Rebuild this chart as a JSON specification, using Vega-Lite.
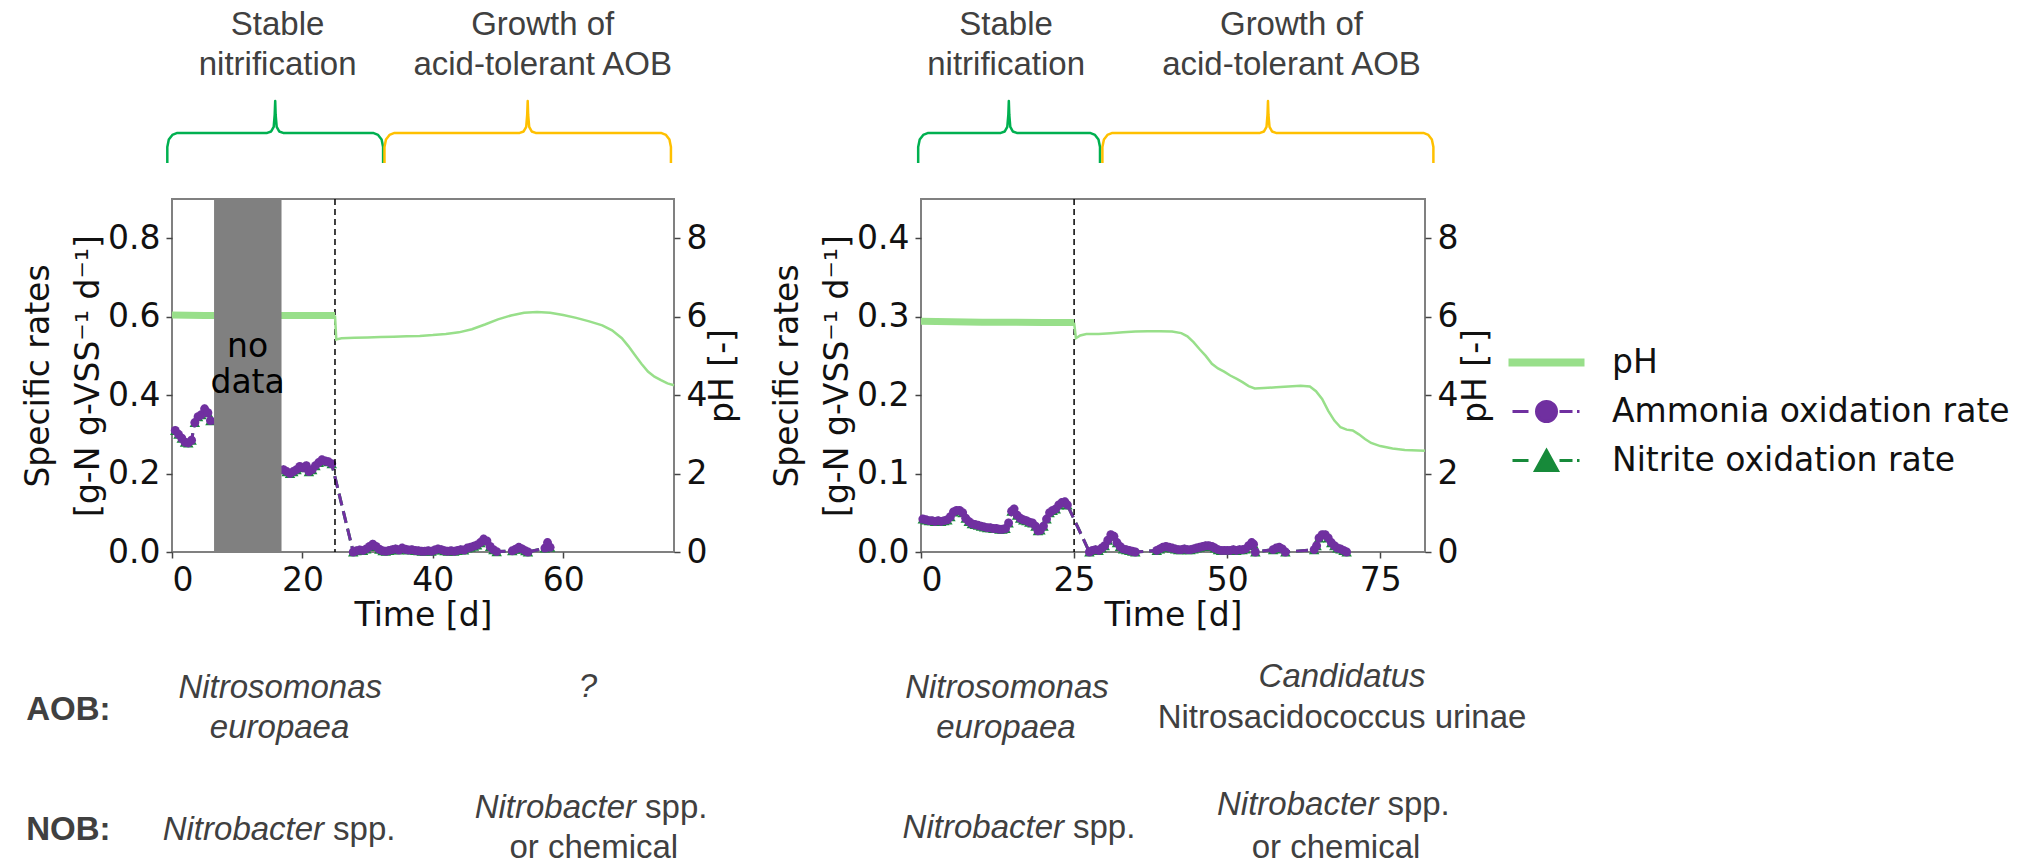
{
"$schema":"https://vega.github.io/schema/vega-lite/v6.json",
"background":"white",
"padding":{"left":21,"top":8,"right":5,"bottom":0},
"spacing":29,
"resolve":{"legend":{"color":"independent"}},
"config":{
  "font":"DejaVu Sans",
  "view":{"stroke":"#808080","strokeWidth":2},
  "axis":{"labelFont":"DejaVu Sans","labelFontSize":33,"labelColor":"#111","titleFont":"DejaVu Sans","titleFontSize":33,"titleColor":"#111","titleFontWeight":"normal","grid":false,"domain":false,"tickColor":"#444","tickWidth":1.5,"tickSize":6,"labelPadding":6},
  "axisX":{"titlePadding":2},
  "legend":{"labelFont":"DejaVu Sans","labelFontSize":33,"labelColor":"#111","labelLimit":600}
},
"datasets":{
"rateL":[
{"t":0.5,"amm":0.31,"nit":0.31},{"t":1.0,"amm":0.30,"nit":0.30},{"t":1.5,"amm":0.29,"nit":0.29},{"t":2.0,"amm":0.28,"nit":0.28},{"t":2.5,"amm":0.278,"nit":0.278},{"t":3.0,"amm":0.285,"nit":0.285},{"t":3.5,"amm":0.33,"nit":0.33},{"t":4.0,"amm":0.345,"nit":0.345},{"t":4.5,"amm":0.35,"nit":0.35},{"t":5.0,"amm":0.365,"nit":0.365},{"t":5.5,"amm":0.355,"nit":0.355},{"t":5.9,"amm":0.335,"nit":0.335},
{"t":17.1,"amm":0.21,"nit":0.21},{"t":17.6,"amm":0.205,"nit":0.205},{"t":18.1,"amm":0.2,"nit":0.2},{"t":18.6,"amm":0.205,"nit":0.205},{"t":19.1,"amm":0.21,"nit":0.21},{"t":19.6,"amm":0.218,"nit":0.218},{"t":20.1,"amm":0.215,"nit":0.215},{"t":20.6,"amm":0.22,"nit":0.22},{"t":21.0,"amm":0.205,"nit":0.205},{"t":21.5,"amm":0.21,"nit":0.21},{"t":22.0,"amm":0.22,"nit":0.22},{"t":22.5,"amm":0.228,"nit":0.228},{"t":23.0,"amm":0.235,"nit":0.235},{"t":23.5,"amm":0.232,"nit":0.232},{"t":24.0,"amm":0.23,"nit":0.23},{"t":24.5,"amm":0.225,"nit":0.225},
{"t":27.8,"amm":0.0,"nit":0.0},{"t":28.3,"amm":0.003,"nit":0.003},{"t":28.8,"amm":0.005,"nit":0.005},{"t":29.3,"amm":0.004,"nit":0.004},{"t":29.8,"amm":0.008,"nit":0.008},{"t":30.3,"amm":0.014,"nit":0.014},{"t":30.8,"amm":0.02,"nit":0.02},{"t":31.3,"amm":0.014,"nit":0.014},{"t":31.8,"amm":0.007,"nit":0.007},{"t":32.3,"amm":0.003,"nit":0.003},{"t":32.8,"amm":0.002,"nit":0.002},{"t":33.3,"amm":0.004,"nit":0.004},{"t":33.8,"amm":0.006,"nit":0.006},{"t":34.3,"amm":0.008,"nit":0.008},{"t":34.8,"amm":0.005,"nit":0.005},{"t":35.3,"amm":0.01,"nit":0.01},{"t":35.8,"amm":0.007,"nit":0.007},{"t":36.3,"amm":0.005,"nit":0.005},{"t":36.8,"amm":0.006,"nit":0.006},{"t":37.3,"amm":0.004,"nit":0.004},{"t":37.8,"amm":0.003,"nit":0.003},{"t":38.3,"amm":0.002,"nit":0.002},{"t":38.8,"amm":0.002,"nit":0.002},{"t":39.3,"amm":0.003,"nit":0.003},{"t":39.8,"amm":0.002,"nit":0.002},{"t":40.3,"amm":0.005,"nit":0.005},{"t":40.8,"amm":0.008,"nit":0.008},{"t":41.3,"amm":0.006,"nit":0.006},{"t":41.8,"amm":0.003,"nit":0.003},{"t":42.3,"amm":0.002,"nit":0.002},{"t":42.8,"amm":0.003,"nit":0.003},{"t":43.3,"amm":0.002,"nit":0.002},{"t":43.8,"amm":0.004,"nit":0.004},{"t":44.3,"amm":0.006,"nit":0.006},{"t":44.8,"amm":0.005,"nit":0.005},{"t":45.3,"amm":0.01,"nit":0.01},{"t":45.8,"amm":0.012,"nit":0.012},{"t":46.3,"amm":0.015,"nit":0.015},{"t":46.8,"amm":0.018,"nit":0.018},{"t":47.3,"amm":0.024,"nit":0.024},{"t":47.8,"amm":0.033,"nit":0.033},{"t":48.3,"amm":0.028,"nit":0.028},{"t":48.8,"amm":0.014,"nit":0.014},{"t":49.3,"amm":0.006,"nit":0.006},{"t":49.8,"amm":0.001,"nit":0.001},
{"t":52.2,"amm":0.003,"nit":0.003},{"t":52.7,"amm":0.007,"nit":0.007},{"t":53.2,"amm":0.012,"nit":0.012},{"t":53.7,"amm":0.008,"nit":0.008},{"t":54.2,"amm":0.003,"nit":0.003},{"t":54.6,"amm":0.0,"nit":0.0},
{"t":57.2,"amm":0.01,"nit":0.01},{"t":57.6,"amm":0.024,"nit":0.024},{"t":58.0,"amm":0.012,"nit":0.012}
],
"rateR":[
{"t":0.3,"amm":0.042,"nit":0.042},{"t":0.8,"amm":0.041,"nit":0.041},{"t":1.3,"amm":0.04,"nit":0.04},{"t":1.8,"amm":0.04,"nit":0.04},{"t":2.3,"amm":0.039,"nit":0.039},{"t":2.8,"amm":0.04,"nit":0.04},{"t":3.3,"amm":0.039,"nit":0.039},{"t":3.8,"amm":0.04,"nit":0.04},{"t":4.3,"amm":0.041,"nit":0.041},{"t":4.8,"amm":0.045,"nit":0.045},{"t":5.3,"amm":0.051,"nit":0.051},{"t":5.8,"amm":0.053,"nit":0.053},{"t":6.3,"amm":0.053,"nit":0.053},{"t":6.8,"amm":0.05,"nit":0.05},{"t":7.3,"amm":0.043,"nit":0.043},{"t":7.8,"amm":0.039,"nit":0.039},{"t":8.3,"amm":0.036,"nit":0.036},{"t":8.8,"amm":0.035,"nit":0.035},{"t":9.3,"amm":0.034,"nit":0.034},{"t":9.8,"amm":0.033,"nit":0.033},{"t":10.3,"amm":0.032,"nit":0.032},{"t":10.8,"amm":0.031,"nit":0.031},{"t":11.3,"amm":0.031,"nit":0.031},{"t":11.8,"amm":0.03,"nit":0.03},{"t":12.3,"amm":0.03,"nit":0.03},{"t":12.8,"amm":0.029,"nit":0.029},{"t":13.3,"amm":0.029,"nit":0.029},{"t":13.8,"amm":0.03,"nit":0.03},{"t":14.3,"amm":0.037,"nit":0.037},{"t":14.8,"amm":0.052,"nit":0.052},{"t":15.2,"amm":0.055,"nit":0.055},{"t":15.7,"amm":0.047,"nit":0.047},{"t":16.2,"amm":0.043,"nit":0.043},{"t":16.7,"amm":0.041,"nit":0.041},{"t":17.2,"amm":0.04,"nit":0.04},{"t":17.7,"amm":0.038,"nit":0.038},{"t":18.2,"amm":0.037,"nit":0.037},{"t":18.7,"amm":0.033,"nit":0.033},{"t":19.1,"amm":0.027,"nit":0.027},{"t":19.5,"amm":0.028,"nit":0.028},{"t":20.0,"amm":0.033,"nit":0.033},{"t":20.5,"amm":0.042,"nit":0.042},{"t":21.0,"amm":0.05,"nit":0.05},{"t":21.5,"amm":0.053,"nit":0.053},{"t":22.0,"amm":0.055,"nit":0.055},{"t":22.5,"amm":0.06,"nit":0.06},{"t":23.0,"amm":0.063,"nit":0.063},{"t":23.5,"amm":0.064,"nit":0.064},{"t":23.9,"amm":0.06,"nit":0.06},
{"t":27.5,"amm":0.0,"nit":0.0},{"t":28.0,"amm":0.002,"nit":0.002},{"t":28.5,"amm":0.003,"nit":0.003},{"t":29.0,"amm":0.002,"nit":0.002},{"t":29.5,"amm":0.005,"nit":0.005},{"t":30.0,"amm":0.008,"nit":0.008},{"t":30.5,"amm":0.015,"nit":0.015},{"t":31.0,"amm":0.022,"nit":0.022},{"t":31.5,"amm":0.02,"nit":0.02},{"t":32.0,"amm":0.012,"nit":0.012},{"t":32.5,"amm":0.007,"nit":0.007},{"t":33.0,"amm":0.004,"nit":0.004},{"t":33.5,"amm":0.003,"nit":0.003},{"t":34.0,"amm":0.002,"nit":0.002},{"t":34.5,"amm":0.001,"nit":0.001},{"t":35.0,"amm":0.0,"nit":0.0},
{"t":38.5,"amm":0.002,"nit":0.002},{"t":39.0,"amm":0.004,"nit":0.004},{"t":39.5,"amm":0.006,"nit":0.006},{"t":40.0,"amm":0.007,"nit":0.007},{"t":40.5,"amm":0.006,"nit":0.006},{"t":41.0,"amm":0.005,"nit":0.005},{"t":41.5,"amm":0.004,"nit":0.004},{"t":42.0,"amm":0.003,"nit":0.003},{"t":42.5,"amm":0.003,"nit":0.003},{"t":43.0,"amm":0.004,"nit":0.004},{"t":43.5,"amm":0.003,"nit":0.003},{"t":44.0,"amm":0.003,"nit":0.003},{"t":44.5,"amm":0.004,"nit":0.004},{"t":45.0,"amm":0.005,"nit":0.005},{"t":45.5,"amm":0.006,"nit":0.006},{"t":46.0,"amm":0.007,"nit":0.007},{"t":46.5,"amm":0.008,"nit":0.008},{"t":47.0,"amm":0.008,"nit":0.008},{"t":47.5,"amm":0.007,"nit":0.007},{"t":48.0,"amm":0.005,"nit":0.005},{"t":48.5,"amm":0.003,"nit":0.003},{"t":49.0,"amm":0.002,"nit":0.002},{"t":49.5,"amm":0.002,"nit":0.002},{"t":50.0,"amm":0.002,"nit":0.002},{"t":50.5,"amm":0.002,"nit":0.002},{"t":51.0,"amm":0.003,"nit":0.003},{"t":51.5,"amm":0.002,"nit":0.002},{"t":52.0,"amm":0.003,"nit":0.003},{"t":52.5,"amm":0.003,"nit":0.003},{"t":53.0,"amm":0.004,"nit":0.004},{"t":53.5,"amm":0.008,"nit":0.008},{"t":54.0,"amm":0.012,"nit":0.012},{"t":54.3,"amm":0.01,"nit":0.01},{"t":54.6,"amm":0.0,"nit":0.0},
{"t":57.5,"amm":0.003,"nit":0.003},{"t":58.0,"amm":0.005,"nit":0.005},{"t":58.5,"amm":0.006,"nit":0.006},{"t":59.0,"amm":0.004,"nit":0.004},{"t":59.5,"amm":0.0,"nit":0.0},
{"t":64.2,"amm":0.003,"nit":0.003},{"t":64.6,"amm":0.008,"nit":0.008},{"t":65.0,"amm":0.018,"nit":0.018},{"t":65.5,"amm":0.022,"nit":0.022},{"t":66.0,"amm":0.022,"nit":0.022},{"t":66.5,"amm":0.018,"nit":0.018},{"t":67.0,"amm":0.012,"nit":0.012},{"t":67.5,"amm":0.008,"nit":0.008},{"t":68.0,"amm":0.005,"nit":0.005},{"t":68.5,"amm":0.004,"nit":0.004},{"t":69.0,"amm":0.002,"nit":0.002},{"t":69.5,"amm":0.0,"nit":0.0}
],
"phL":[
{"t":0,"ph":6.04},{"t":5,"ph":6.03},{"t":10,"ph":6.03},{"t":15,"ph":6.03},{"t":20,"ph":6.03},{"t":25,"ph":6.03},
{"t":25.2,"ph":5.42},{"t":26,"ph":5.45},{"t":28,"ph":5.46},{"t":30,"ph":5.47},{"t":32,"ph":5.48},{"t":34,"ph":5.49},{"t":36,"ph":5.5},{"t":38,"ph":5.51},{"t":40,"ph":5.53},{"t":42,"ph":5.56},{"t":44,"ph":5.6},{"t":46,"ph":5.68},{"t":48,"ph":5.8},{"t":50,"ph":5.93},{"t":52,"ph":6.03},{"t":54,"ph":6.1},{"t":56,"ph":6.12},{"t":58,"ph":6.1},{"t":60,"ph":6.04},{"t":62,"ph":5.97},{"t":64,"ph":5.88},{"t":66,"ph":5.78},{"t":67.5,"ph":5.65},{"t":69,"ph":5.45},{"t":70,"ph":5.25},{"t":71,"ph":5.02},{"t":72,"ph":4.8},{"t":73,"ph":4.6},{"t":74,"ph":4.47},{"t":75,"ph":4.38},{"t":76,"ph":4.3},{"t":77,"ph":4.25}
],
"phR":[
{"t":0,"ph":5.88},{"t":5,"ph":5.87},{"t":10,"ph":5.86},{"t":15,"ph":5.86},{"t":20,"ph":5.85},{"t":25,"ph":5.85},
{"t":25.3,"ph":5.45},{"t":26,"ph":5.52},{"t":27,"ph":5.56},{"t":29,"ph":5.56},{"t":31,"ph":5.58},{"t":33,"ph":5.6},{"t":35,"ph":5.62},{"t":37,"ph":5.63},{"t":39,"ph":5.63},{"t":41,"ph":5.62},{"t":42.5,"ph":5.58},{"t":43.5,"ph":5.5},{"t":44.5,"ph":5.35},{"t":45.5,"ph":5.17},{"t":46.5,"ph":5.0},{"t":47.5,"ph":4.8},{"t":48.5,"ph":4.68},{"t":49.5,"ph":4.6},{"t":50.5,"ph":4.5},{"t":51.5,"ph":4.42},{"t":52.5,"ph":4.33},{"t":53.5,"ph":4.23},{"t":54.5,"ph":4.17},{"t":56,"ph":4.18},{"t":58,"ph":4.2},{"t":60,"ph":4.22},{"t":62,"ph":4.24},{"t":63.5,"ph":4.22},{"t":64.5,"ph":4.1},{"t":65.5,"ph":3.9},{"t":66.5,"ph":3.6},{"t":67.5,"ph":3.35},{"t":68.5,"ph":3.18},{"t":69.5,"ph":3.12},{"t":70.5,"ph":3.1},{"t":71.5,"ph":3.0},{"t":72.5,"ph":2.88},{"t":73.5,"ph":2.78},{"t":75,"ph":2.7},{"t":77,"ph":2.64},{"t":79,"ph":2.6},{"t":82.3,"ph":2.58}
],
"braceL":[
{"phase":"stable","i":0,"t":-0.72,"ph":9.918},{"phase":"stable","i":1,"t":-0.72,"ph":10.327},{"phase":"stable","i":2,"t":-0.49,"ph":10.518},{"phase":"stable","i":3,"t":0.05,"ph":10.633},{"phase":"stable","i":4,"t":0.81,"ph":10.684},{"phase":"stable","i":5,"t":14.6,"ph":10.684},{"phase":"stable","i":6,"t":15.21,"ph":10.722},{"phase":"stable","i":7,"t":15.6,"ph":10.837},{"phase":"stable","i":8,"t":15.75,"ph":11.143},{"phase":"stable","i":9,"t":15.83,"ph":11.5},{"phase":"stable","i":10,"t":15.9,"ph":11.143},{"phase":"stable","i":11,"t":16.06,"ph":10.837},{"phase":"stable","i":12,"t":16.44,"ph":10.722},{"phase":"stable","i":13,"t":17.06,"ph":10.684},{"phase":"stable","i":14,"t":30.84,"ph":10.684},{"phase":"stable","i":15,"t":31.61,"ph":10.633},{"phase":"stable","i":16,"t":32.15,"ph":10.518},{"phase":"stable","i":17,"t":32.38,"ph":10.327},{"phase":"stable","i":18,"t":32.38,"ph":9.918},
{"phase":"growth","i":0,"t":32.59,"ph":9.918},{"phase":"growth","i":1,"t":32.59,"ph":10.327},{"phase":"growth","i":2,"t":32.82,"ph":10.518},{"phase":"growth","i":3,"t":33.36,"ph":10.633},{"phase":"growth","i":4,"t":34.13,"ph":10.684},{"phase":"growth","i":5,"t":53.33,"ph":10.684},{"phase":"growth","i":6,"t":53.94,"ph":10.722},{"phase":"growth","i":7,"t":54.33,"ph":10.837},{"phase":"growth","i":8,"t":54.48,"ph":11.143},{"phase":"growth","i":9,"t":54.56,"ph":11.5},{"phase":"growth","i":10,"t":54.63,"ph":11.143},{"phase":"growth","i":11,"t":54.79,"ph":10.837},{"phase":"growth","i":12,"t":55.17,"ph":10.722},{"phase":"growth","i":13,"t":55.78,"ph":10.684},{"phase":"growth","i":14,"t":75.0,"ph":10.684},{"phase":"growth","i":15,"t":75.77,"ph":10.633},{"phase":"growth","i":16,"t":76.3,"ph":10.518},{"phase":"growth","i":17,"t":76.53,"ph":10.327},{"phase":"growth","i":18,"t":76.53,"ph":9.918}
],
"braceR":[
{"phase":"stable","i":0,"t":-0.46,"ph":9.918},{"phase":"stable","i":1,"t":-0.46,"ph":10.327},{"phase":"stable","i":2,"t":-0.21,"ph":10.518},{"phase":"stable","i":3,"t":0.36,"ph":10.633},{"phase":"stable","i":4,"t":1.18,"ph":10.684},{"phase":"stable","i":5,"t":13.03,"ph":10.684},{"phase":"stable","i":6,"t":13.68,"ph":10.722},{"phase":"stable","i":7,"t":14.09,"ph":10.837},{"phase":"stable","i":8,"t":14.26,"ph":11.143},{"phase":"stable","i":9,"t":14.34,"ph":11.5},{"phase":"stable","i":10,"t":14.42,"ph":11.143},{"phase":"stable","i":11,"t":14.58,"ph":10.837},{"phase":"stable","i":12,"t":14.99,"ph":10.722},{"phase":"stable","i":13,"t":15.64,"ph":10.684},{"phase":"stable","i":14,"t":27.6,"ph":10.684},{"phase":"stable","i":15,"t":28.41,"ph":10.633},{"phase":"stable","i":16,"t":28.98,"ph":10.518},{"phase":"stable","i":17,"t":29.23,"ph":10.327},{"phase":"stable","i":18,"t":29.23,"ph":9.918},
{"phase":"growth","i":0,"t":29.62,"ph":9.918},{"phase":"growth","i":1,"t":29.62,"ph":10.327},{"phase":"growth","i":2,"t":29.87,"ph":10.518},{"phase":"growth","i":3,"t":30.44,"ph":10.633},{"phase":"growth","i":4,"t":31.25,"ph":10.684},{"phase":"growth","i":5,"t":55.36,"ph":10.684},{"phase":"growth","i":6,"t":56.01,"ph":10.722},{"phase":"growth","i":7,"t":56.42,"ph":10.837},{"phase":"growth","i":8,"t":56.58,"ph":11.143},{"phase":"growth","i":9,"t":56.66,"ph":11.5},{"phase":"growth","i":10,"t":56.74,"ph":11.143},{"phase":"growth","i":11,"t":56.91,"ph":10.837},{"phase":"growth","i":12,"t":57.32,"ph":10.722},{"phase":"growth","i":13,"t":57.97,"ph":10.684},{"phase":"growth","i":14,"t":82.04,"ph":10.684},{"phase":"growth","i":15,"t":82.85,"ph":10.633},{"phase":"growth","i":16,"t":83.42,"ph":10.518},{"phase":"growth","i":17,"t":83.67,"ph":10.327},{"phase":"growth","i":18,"t":83.67,"ph":9.918}
],
"annL":[
{"t":16.2,"ph":13.18,"label":"Stable","role":"head"},
{"t":16.2,"ph":12.17,"label":"nitrification","role":"head"},
{"t":56.86,"ph":13.18,"label":"Growth of","role":"head"},
{"t":56.86,"ph":12.17,"label":"acid-tolerant AOB","role":"head"},
{"t":11.6,"ph":4.97,"label":"no","role":"nodata"},
{"t":11.6,"ph":4.05,"label":"data","role":"nodata"},
{"t":-15.9,"ph":-4.29,"label":"AOB:","role":"bold"},
{"t":-15.9,"ph":-7.35,"label":"NOB:","role":"bold"},
{"t":16.6,"ph":-3.73,"label":"Nitrosomonas","role":"it"},
{"t":16.5,"ph":-4.75,"label":"europaea","role":"it"},
{"t":63.8,"ph":-3.7,"label":"?","role":"it"},
{"t":23.33,"ph":-7.35,"label":"Nitrobacter","role":"genus"},
{"t":23.33,"ph":-7.35,"label":"spp.","role":"spp"},
{"t":71.18,"ph":-6.78,"label":"Nitrobacter","role":"genus"},
{"t":71.18,"ph":-6.78,"label":"spp.","role":"spp"},
{"t":64.7,"ph":-7.79,"label":"or chemical","role":"plain"}
],
"annR":[
{"t":13.9,"ph":13.18,"label":"Stable","role":"head"},
{"t":13.9,"ph":12.17,"label":"nitrification","role":"head"},
{"t":60.5,"ph":13.18,"label":"Growth of","role":"head"},
{"t":60.5,"ph":12.17,"label":"acid-tolerant AOB","role":"head"},
{"t":14.04,"ph":-3.73,"label":"Nitrosomonas","role":"it"},
{"t":13.88,"ph":-4.75,"label":"europaea","role":"it"},
{"t":23.35,"ph":-7.28,"label":"Nitrobacter","role":"genus"},
{"t":23.35,"ph":-7.28,"label":"spp.","role":"spp"},
{"t":68.75,"ph":-3.45,"label":"Candidatus","role":"it"},
{"t":68.75,"ph":-4.49,"label":"Nitrosacidococcus urinae","role":"plain"},
{"t":74.69,"ph":-6.71,"label":"Nitrobacter","role":"genus"},
{"t":74.69,"ph":-6.71,"label":"spp.","role":"spp"},
{"t":67.77,"ph":-7.79,"label":"or chemical","role":"plain"}
]
},
"hconcat":[
{
 "width":502,"height":353,
 "resolve":{"scale":{"y":"independent"}},
 "layer":[
    {"data":{"name":"rateL"},"mark":{"type":"line","strokeWidth":3,"strokeDash":[12,6],"color":"#178a3a"},
     "encoding":{"x":{"field":"t","type":"quantitative","scale":{"domain":[0,77],"nice":false,"zero":false},"axis":{"title":"Time [d]","values":[0,20,40,60]}},
      "y":{"field":"nit","type":"quantitative","scale":{"domain":[0,0.9],"nice":false},"axis":{"orient":"left","title":["Specific rates","[g-N g-VSS⁻¹ d⁻¹]"],"titleLineHeight":50,"titlePadding":2,"values":[0,0.2,0.4,0.6,0.8],"format":".1f","encode":{"title":{"update":{"lineHeight":{"value":50}}}}}}}},
    {"data":{"name":"rateL"},"mark":{"type":"point","shape":"triangle-up","filled":true,"size":110,"opacity":1,"color":"#178a3a"},
     "encoding":{"x":{"field":"t","type":"quantitative"},
      "y":{"field":"nit","type":"quantitative","scale":{"domain":[0,0.9],"nice":false},"axis":null}}},
    {"data":{"name":"rateL"},"mark":{"type":"line","strokeWidth":3,"strokeDash":[12,6],"color":"#7030a0"},
     "encoding":{"x":{"field":"t","type":"quantitative"},
      "y":{"field":"amm","type":"quantitative","scale":{"domain":[0,0.9],"nice":false},"axis":null}}},
    {"data":{"name":"rateL"},"mark":{"type":"point","shape":"circle","filled":true,"size":80,"opacity":1,"color":"#7030a0"},
     "encoding":{"x":{"field":"t","type":"quantitative"},
      "y":{"field":"amm","type":"quantitative","scale":{"domain":[0,0.9],"nice":false},"axis":null}}},
    {"data":{"values":[{}]},"mark":{"type":"rule","color":"#000","strokeWidth":1.5,"strokeDash":[6,4]},
     "encoding":{"x":{"datum":25,"type":"quantitative"}}},
    {"data":{"name":"phL"},"transform":[{"filter":"datum.t <= 25"}],"mark":{"type":"line","strokeWidth":7,"color":"#98df8a"},
     "encoding":{"x":{"field":"t","type":"quantitative"},
      "y":{"field":"ph","type":"quantitative","scale":{"domain":[0,9],"nice":false,"zero":false},"axis":{"orient":"right","title":"pH [-]","values":[0,2,4,6,8],"titleAngle":-90,"titleBaseline":"top","titlePadding":0}}}},
    {"data":{"name":"phL"},"transform":[{"filter":"datum.t >= 25"}],"mark":{"type":"line","strokeWidth":2.5,"color":"#98df8a"},
     "encoding":{"x":{"field":"t","type":"quantitative"},
      "y":{"field":"ph","type":"quantitative","scale":{"domain":[0,9],"nice":false,"zero":false},"axis":null}}},
    {"data":{"values":[{"start":6.45,"end":16.8}]},"mark":{"type":"rect","color":"#808080"},
     "encoding":{"x":{"field":"start","type":"quantitative"},"x2":{"field":"end"}}},
    {"data":{"name":"annL"},"transform":[{"filter":"datum.role === 'nodata'"}],"mark":{"type":"text","font":"DejaVu Sans","fontSize":33,"color":"#000","align":"center","baseline":"alphabetic"},
     "encoding":{"x":{"field":"t","type":"quantitative"},"y":{"field":"ph","type":"quantitative","scale":{"domain":[0,9],"nice":false,"zero":false},"axis":null},"text":{"field":"label"}}},
    {"data":{"name":"braceL"},"transform":[{"filter":"datum.phase === 'stable'"}],"mark":{"type":"line","color":"#00b050","strokeWidth":2.5,"strokeJoin":"round"},
     "encoding":{"x":{"field":"t","type":"quantitative"},"y":{"field":"ph","type":"quantitative","scale":{"domain":[0,9],"nice":false,"zero":false},"axis":null},"order":{"field":"i","type":"quantitative"}}},
    {"data":{"name":"braceL"},"transform":[{"filter":"datum.phase === 'growth'"}],"mark":{"type":"line","color":"#ffc000","strokeWidth":2.5,"strokeJoin":"round"},
     "encoding":{"x":{"field":"t","type":"quantitative"},"y":{"field":"ph","type":"quantitative","scale":{"domain":[0,9],"nice":false,"zero":false},"axis":null},"order":{"field":"i","type":"quantitative"}}},
    {"data":{"name":"annL"},"transform":[{"filter":"datum.role === 'head'"}],"mark":{"type":"text","font":"Liberation Sans","fontSize":33,"color":"#404040","align":"center","baseline":"alphabetic"},
     "encoding":{"x":{"field":"t","type":"quantitative"},"y":{"field":"ph","type":"quantitative","scale":{"domain":[0,9],"nice":false,"zero":false},"axis":null},"text":{"field":"label"}}},
    {"data":{"name":"annL"},"transform":[{"filter":"datum.role === 'it'"}],"mark":{"type":"text","font":"Liberation Sans","fontSize":33,"fontStyle":"italic","color":"#404040","align":"center","baseline":"alphabetic"},
     "encoding":{"x":{"field":"t","type":"quantitative"},"y":{"field":"ph","type":"quantitative","scale":{"domain":[0,9],"nice":false,"zero":false},"axis":null},"text":{"field":"label"}}},
    {"data":{"name":"annL"},"transform":[{"filter":"datum.role === 'plain'"}],"mark":{"type":"text","font":"Liberation Sans","fontSize":33,"color":"#404040","align":"center","baseline":"alphabetic"},
     "encoding":{"x":{"field":"t","type":"quantitative"},"y":{"field":"ph","type":"quantitative","scale":{"domain":[0,9],"nice":false,"zero":false},"axis":null},"text":{"field":"label"}}},
    {"data":{"name":"annL"},"transform":[{"filter":"datum.role === 'bold'"}],"mark":{"type":"text","font":"Liberation Sans","fontSize":33,"fontWeight":"bold","color":"#404040","align":"center","baseline":"alphabetic"},
     "encoding":{"x":{"field":"t","type":"quantitative"},"y":{"field":"ph","type":"quantitative","scale":{"domain":[0,9],"nice":false,"zero":false},"axis":null},"text":{"field":"label"}}},
    {"data":{"name":"annL"},"transform":[{"filter":"datum.role === 'genus'"}],"mark":{"type":"text","font":"Liberation Sans","fontSize":33,"fontStyle":"italic","color":"#404040","align":"right","baseline":"alphabetic"},
     "encoding":{"x":{"field":"t","type":"quantitative"},"y":{"field":"ph","type":"quantitative","scale":{"domain":[0,9],"nice":false,"zero":false},"axis":null},"text":{"field":"label"}}},
    {"data":{"name":"annL"},"transform":[{"filter":"datum.role === 'spp'"}],"mark":{"type":"text","font":"Liberation Sans","fontSize":33,"color":"#404040","align":"left","baseline":"alphabetic","dx":9},
     "encoding":{"x":{"field":"t","type":"quantitative"},"y":{"field":"ph","type":"quantitative","scale":{"domain":[0,9],"nice":false,"zero":false},"axis":null},"text":{"field":"label"}}}
 ]
},
{
 "width":504,"height":353,
 "resolve":{"scale":{"y":"independent"}},
 "layer":[
    {"data":{"name":"rateR"},"mark":{"type":"line","strokeWidth":3,"strokeDash":[12,6],"color":"#178a3a"},
     "encoding":{"x":{"field":"t","type":"quantitative","scale":{"domain":[0,82.3],"nice":false,"zero":false},"axis":{"title":"Time [d]","values":[0,25,50,75]}},
      "y":{"field":"nit","type":"quantitative","scale":{"domain":[0,0.45],"nice":false},"axis":{"orient":"left","title":["Specific rates","[g-N g-VSS⁻¹ d⁻¹]"],"titleLineHeight":50,"titlePadding":2,"values":[0,0.1,0.2,0.3,0.4],"format":".1f","encode":{"title":{"update":{"lineHeight":{"value":50}}}}}}}},
    {"data":{"name":"rateR"},"mark":{"type":"point","shape":"triangle-up","filled":true,"size":110,"opacity":1,"color":"#178a3a"},
     "encoding":{"x":{"field":"t","type":"quantitative"},
      "y":{"field":"nit","type":"quantitative","scale":{"domain":[0,0.45],"nice":false},"axis":null}}},
    {"data":{"name":"rateR"},"mark":{"type":"line","strokeWidth":3,"strokeDash":[12,6],"color":"#7030a0"},
     "encoding":{"x":{"field":"t","type":"quantitative"},
      "y":{"field":"amm","type":"quantitative","scale":{"domain":[0,0.45],"nice":false},"axis":null}}},
    {"data":{"name":"rateR"},"mark":{"type":"point","shape":"circle","filled":true,"size":80,"opacity":1,"color":"#7030a0"},
     "encoding":{"x":{"field":"t","type":"quantitative"},
      "y":{"field":"amm","type":"quantitative","scale":{"domain":[0,0.45],"nice":false},"axis":null}}},
    {"data":{"values":[{}]},"mark":{"type":"rule","color":"#000","strokeWidth":1.5,"strokeDash":[6,4]},
     "encoding":{"x":{"datum":25,"type":"quantitative"}}},
    {"data":{"name":"phR"},"transform":[{"filter":"datum.t <= 25"}],"mark":{"type":"line","strokeWidth":7},
     "encoding":{"x":{"field":"t","type":"quantitative"},
      "y":{"field":"ph","type":"quantitative","scale":{"domain":[0,9],"nice":false,"zero":false},"axis":{"orient":"right","title":"pH [-]","values":[0,2,4,6,8],"titleAngle":-90,"titleBaseline":"top","titlePadding":2}},
      "color":{"datum":"pH","type":"nominal","scale":{"domain":["pH","Ammonia oxidation rate","Nitrite oxidation rate"],"range":["#98df8a","#7030a0","#178a3a"]},
       "legend":{"orient":"none","legendX":609,"legendY":147,"title":null,"symbolSize":400,"labelOffset":49,"rowPadding":15,"labelLimit":600,
        "encode":{"symbols":{"update":{
         "shape":{"signal":"datum.value === 'pH' ? 'M-3.8,0H3.8' : (datum.value === 'Ammonia oxidation rate' ? 'M-3.4,0H-1.8M-1,0A1,1,0,1,0,1,0A1,1,0,1,0,-1,0ZM1.3,0H2.6M3.05,0H3.3' : 'M-3.4,0H-1.8M0,-1L1.1,1L-1.1,1ZM1.3,0H2.6M3.05,0H3.3')"},
         "strokeWidth":{"signal":"datum.value === 'pH' ? 8 : 3"},
         "fill":{"signal":"datum.value === 'pH' ? 'transparent' : (datum.value === 'Ammonia oxidation rate' ? '#7030a0' : '#178a3a')"},
         "stroke":{"signal":"datum.value === 'pH' ? '#98df8a' : (datum.value === 'Ammonia oxidation rate' ? '#7030a0' : '#178a3a')"},
         "opacity":{"value":1}}}}}}}},
    {"data":{"name":"phR"},"transform":[{"filter":"datum.t >= 25"}],"mark":{"type":"line","strokeWidth":2.5,"color":"#98df8a"},
     "encoding":{"x":{"field":"t","type":"quantitative"},
      "y":{"field":"ph","type":"quantitative","scale":{"domain":[0,9],"nice":false,"zero":false},"axis":null}}},
    {"data":{"name":"braceR"},"transform":[{"filter":"datum.phase === 'stable'"}],"mark":{"type":"line","color":"#00b050","strokeWidth":2.5,"strokeJoin":"round"},
     "encoding":{"x":{"field":"t","type":"quantitative"},"y":{"field":"ph","type":"quantitative","scale":{"domain":[0,9],"nice":false,"zero":false},"axis":null},"order":{"field":"i","type":"quantitative"}}},
    {"data":{"name":"braceR"},"transform":[{"filter":"datum.phase === 'growth'"}],"mark":{"type":"line","color":"#ffc000","strokeWidth":2.5,"strokeJoin":"round"},
     "encoding":{"x":{"field":"t","type":"quantitative"},"y":{"field":"ph","type":"quantitative","scale":{"domain":[0,9],"nice":false,"zero":false},"axis":null},"order":{"field":"i","type":"quantitative"}}},
    {"data":{"name":"annR"},"transform":[{"filter":"datum.role === 'head'"}],"mark":{"type":"text","font":"Liberation Sans","fontSize":33,"color":"#404040","align":"center","baseline":"alphabetic"},
     "encoding":{"x":{"field":"t","type":"quantitative"},"y":{"field":"ph","type":"quantitative","scale":{"domain":[0,9],"nice":false,"zero":false},"axis":null},"text":{"field":"label"}}},
    {"data":{"name":"annR"},"transform":[{"filter":"datum.role === 'it'"}],"mark":{"type":"text","font":"Liberation Sans","fontSize":33,"fontStyle":"italic","color":"#404040","align":"center","baseline":"alphabetic"},
     "encoding":{"x":{"field":"t","type":"quantitative"},"y":{"field":"ph","type":"quantitative","scale":{"domain":[0,9],"nice":false,"zero":false},"axis":null},"text":{"field":"label"}}},
    {"data":{"name":"annR"},"transform":[{"filter":"datum.role === 'plain'"}],"mark":{"type":"text","font":"Liberation Sans","fontSize":33,"color":"#404040","align":"center","baseline":"alphabetic"},
     "encoding":{"x":{"field":"t","type":"quantitative"},"y":{"field":"ph","type":"quantitative","scale":{"domain":[0,9],"nice":false,"zero":false},"axis":null},"text":{"field":"label"}}},
    {"data":{"name":"annR"},"transform":[{"filter":"datum.role === 'genus'"}],"mark":{"type":"text","font":"Liberation Sans","fontSize":33,"fontStyle":"italic","color":"#404040","align":"right","baseline":"alphabetic"},
     "encoding":{"x":{"field":"t","type":"quantitative"},"y":{"field":"ph","type":"quantitative","scale":{"domain":[0,9],"nice":false,"zero":false},"axis":null},"text":{"field":"label"}}},
    {"data":{"name":"annR"},"transform":[{"filter":"datum.role === 'spp'"}],"mark":{"type":"text","font":"Liberation Sans","fontSize":33,"color":"#404040","align":"left","baseline":"alphabetic","dx":9},
     "encoding":{"x":{"field":"t","type":"quantitative"},"y":{"field":"ph","type":"quantitative","scale":{"domain":[0,9],"nice":false,"zero":false},"axis":null},"text":{"field":"label"}}}
 ]
}
]
}
